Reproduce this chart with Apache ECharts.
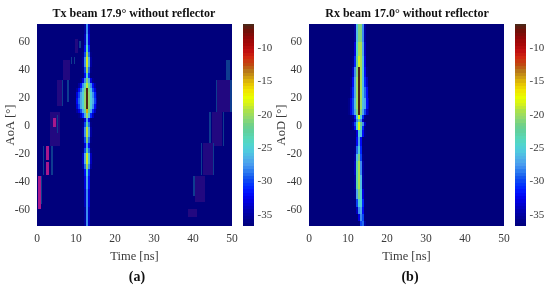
<!DOCTYPE html>
<html><head><meta charset="utf-8">
<style>html,body{margin:0;padding:0;background:#fff}#c{width:550px;height:289px;filter:blur(0.45px)}</style>
<script src="https://cdn.jsdelivr.net/npm/echarts@6/dist/echarts.min.js"></script>
</head><body><div id="c"></div>
<script>
const b = -36.6;
const xTicks = [0,10,20,30,40,50];
const yTicks = [-60,-40,-20,0,20,40,60];
const cbTicks = [-35,-30,-25,-20,-15,-10];
const leftTimes = [10,10.5,11,11.5,12,12.5,13,13.5,14,14.5,15,15.5];
const rightTimes = [10,10.5,11,11.5,12,12.5,13,13.5,14,14.5,15,15.5];
// [angle top, angle bottom, level per time cell]
const txRows = [
[73,66,[b,b,b,b,-35,-28,-34,b,b,b,b]],
[66,58,[b,b,b,b,-34,-27,-33,b,b,b,b]],
[58,53,[b,b,b,b,-32,-24,-31,b,b,b,b]],
[53,49,[b,b,b,-36,-30,-20,-29,-36,b,b,b]],
[49,42,[b,b,b,-35,-28,-18.5,-27,-35,b,b,b]],
[42,38,[b,b,b,-36,-30,-20,-29,-36,b,b,b]],
[38,34,[b,b,b,b,-32,-25,-31,b,b,b,b]],
[34,31,[b,b,-36,-33,-28,-21,-27,-33,-36,b,b]],
[31,27,[b,-35,-32,-28,-24,-19,-23,-28,-32,-35,b]],
[27,24,[-35,-32,-29,-26,-21,-6.6,-21,-26,-30,-33,-36]],
[24,20,[-33,-30,-27,-25,-20.5,-6.6,-20.5,-25,-28,-31,-35]],
[20,16,[-32,-29,-27,-25,-20.5,-6.6,-20.5,-25,-27,-30,-34]],
[16,12,[-33,-30,-27,-25,-20.5,-6.6,-20.5,-25,-28,-32,-35]],
[12,9,[-35,-33,-30,-27,-23,-15,-22,-27,-31,-34,b]],
[9,6,[b,-36,-34,-31,-27,-20,-26,-31,-34,b,b]],
[6,3,[b,b,b,b,-33,-27,-32,b,b,b,b]],
[3,-1,[b,b,b,-36,-30,-23,-29,-36,b,b,b]],
[-1,-8,[b,b,b,-35,-28,-19,-27,-35,b,b,b]],
[-8,-12,[b,b,b,-36,-30,-21,-29,-36,b,b,b]],
[-12,-16,[b,b,b,b,-33,-27,-32,b,b,b,b]],
[-16,-19,[b,b,b,-36,-30,-23,-29,-36,b,b,b]],
[-19,-27,[b,b,b,-34,-27,-18.5,-26,-34,b,b,b]],
[-27,-31,[b,b,b,-35,-29,-20,-28,-35,b,b,b]],
[-31,-36,[b,b,b,b,-32,-25,-31,b,b,b,b]],
[-36,-45,[b,b,b,b,-33,-27,-32,b,b,b,b]],
[-45,-58,[b,b,b,b,-34,-28,-33,b,b,b,b]],
[-58,-72,[b,b,b,b,-35,-28,-34,b,b,b,b]]
];
const rxRows = [
[73,60,[b,b,b,-35,-26,-21,-21,-28,-35,b,b]],
[60,50,[b,b,b,-33,-24,-19.5,-19.5,-27,-34,b,b]],
[50,42,[b,b,-36,-31,-22,-18.5,-19.5,-26,-33,b,b]],
[42,35,[b,b,-34,-28,-21,-6.6,-19.5,-26,-32,-36,b]],
[35,28,[b,-36,-32,-27,-20,-6.6,-19.5,-26,-31,-34,b]],
[28,20,[b,-35,-31,-27,-20,-6.6,-19.5,-26,-29,-32,-36]],
[20,12,[-36,-33,-30,-26,-20,-6.6,-20,-26,-27,-32,-34]],
[12,8,[-36,-33,-30,-27,-21,-6.6,-21,-27,-30,-34,-35]],
[8,5,[b,b,-36,-32,-25,-18,-25,-31,-36,b,b]],
[5,3,[b,b,b,-34,-28,-22,-28,-34,b,b,b]],
[3,0,[b,b,-35,-30,-24,-18,-22,-28,-34,b,b]],
[0,-3,[b,b,-36,-32,-24,-18,-23,-31,-36,b,b]],
[-3,-8,[b,b,b,b,-33,-25,-26,-32,-36,b,b]],
[-8,-14,[b,b,b,b,-32,-27,-32,b,b,b,b]],
[-14,-20,[b,b,b,-36,-29,-25,-31,b,b,b,b]],
[-20,-25,[b,b,b,-35,-26,-21,-30,-36,b,b,b]],
[-25,-35,[b,b,b,-34,-23,-19.5,-28,-35,b,b,b]],
[-35,-45,[b,b,b,-35,-23,-19.5,-26,-35,b,b,b]],
[-45,-52,[b,b,b,-36,-27,-21,-25,-33,b,b,b]],
[-52,-58,[b,b,b,b,-30,-25,-25,-31,b,b,b]],
[-58,-63,[b,b,b,b,-34,-28,-27,-32,b,b,b]],
[-63,-68,[b,b,b,b,b,-33,-28,-30,b,b,b]],
[-68,-73,[b,b,b,b,b,b,-30,-29,-35,b,b]]
];
// faint stripes: [t0,t1,angle top,angle bottom,kind]
const txStripes = [
[9.7,10.5,62,52,0],[10.8,11.2,61,56,2],[9.5,9.75,49,44,2],[8.6,8.85,49,44,2],
[6.7,8.5,47,33,0],[7.8,8.1,33,17,2],[5.1,6.3,33,14,0],[6.3,6.5,33,14,2],
[3.3,5.9,10,-14,0],[4.2,4.75,6,-1,1],[5,5.2,8,-5,2],
[2.2,3.1,-14,-24,1],[2.2,3.1,-26,-35,1],[1.5,1.8,-14,-35,2],[3.7,4,-14,-35,2],
[0.25,1,-36,-59,1],[1.15,1.4,-36,-56,2],
[46.2,49.5,33,10,0],[45.8,46.2,33,10,2],[49.5,49.9,33,10,2],
[48.5,49.5,47,33,2],[44.9,47.4,10,-14,0],[44.1,44.7,10,-14,2],[47.6,48,10,-14,2],
[42.5,45,-12,-35,0],[42,42.4,-12,-35,2],[45.2,45.5,-12,-35,2],
[40.5,43,-36,-54,0],[40,40.4,-36,-50,2],[38.7,41,-59,-65,0]
];
const stripeColors = ['#220880','#a8188c','#0e3c90'];
const colormap = ['#00007a','#000090','#0000a8','#0000c8','#0000e8','#0010ff','#0030ff','#1050f0','#2878f0','#4898f0','#50b0e8','#50c8e0','#50d4d0','#58d8b8','#60d0a0','#70d088','#90d870','#a8e050','#d0f020','#e8ff00','#f0e800','#e8c800','#d0a010','#b87818','#c04810','#d02810','#c01010','#a80808','#900808','#701008','#4a2818'];

const cmin=-36.7, cmax=-6.4, font='"Liberation Serif"', grey='#3a3a3a';
function cells(rows,times){
  const out=[[0,50,80,-80,b]];
  rows.forEach(r=>r[2].forEach((v,i)=>{ if(v!==b) out.push([times[i],times[i+1],r[0],r[1],v]); }));
  return out;
}
function rect(params,api,fill){
  const p=api.coord([api.value(0),api.value(2)]), q=api.coord([api.value(1),api.value(3)]);
  const x=Math.round(p[0]),y=Math.round(p[1]);
  const w=Math.max(1,Math.round(q[0])-x),h=Math.max(1,Math.round(q[1])-y);
  return {type:'rect',shape:{x,y,width:w,height:h},style:{fill}};
}
const jet=(p,a)=>rect(p,a,a.visual('color'));
function series(i,data,fn){
  return {type:'custom',xAxisIndex:i,yAxisIndex:i,data,renderItem:fn,clip:true,silent:true,animation:false,encode:{x:[0,1],y:[2,3]}};
}
const cb=[]; for(let v=cmin;v<cmax;v+=0.5) cb.push([0,1,Math.min(v+0.5,cmax),v,v+0.25]);
const S=[
  series(0,cells(txRows,leftTimes).slice(0,1),jet),
  series(0,txStripes,(p,a)=>rect(p,a,stripeColors[a.value(4)])),
  series(0,cells(txRows,leftTimes).slice(1),jet),
  series(1,cells(rxRows,rightTimes),jet),
  series(2,cb,jet),
  series(3,cb,jet)
];
const gridBox=(l,w)=>({left:l,top:24,width:w,height:202,containLabel:false});
const xa=(g)=>({gridIndex:g,type:'value',min:0,max:50,
  axisLine:{show:false},axisTick:{show:false},splitLine:{show:false},
  axisLabel:{customValues:xTicks,color:grey,fontFamily:font,fontSize:11.5,margin:7},
  name:'Time [ns]',nameLocation:'middle',nameGap:23,nameTextStyle:{color:grey,fontFamily:font,fontSize:12.5}});
const ya=(g)=>({gridIndex:g,type:'value',min:-71.4,max:72.9,
  axisLine:{show:false},axisTick:{show:false},splitLine:{show:false},
  axisLabel:{customValues:yTicks,color:grey,fontFamily:font,fontSize:11.5,margin:7}});
const cx=(g)=>({gridIndex:g,type:'value',min:0,max:1,show:false});
const cy=(g)=>({gridIndex:g,type:'value',min:cmin,max:cmax,position:'right',
  axisLine:{show:false},axisTick:{show:false},splitLine:{show:false},
  axisLabel:{customValues:cbTicks,color:grey,fontFamily:font,fontSize:11,margin:4}});
const T=(text,x,y,bold,size)=>({text,left:x,top:y,textAlign:'center',textStyle:{fontFamily:font,fontWeight:bold?'bold':'normal',fontSize:size,color:'#111'},padding:0});
const Y=(text,x)=>({type:'text',x,y:125,rotation:Math.PI/2,style:{text,fill:grey,font:'12.5px '+font,textAlign:'center',textVerticalAlign:'middle'}});
const chart=echarts.init(document.getElementById('c'),null,{renderer:'canvas'});
chart.setOption({
  animation:false,backgroundColor:'#fff',
  title:[
    T('Tx beam 17.9° without reflector',134,8,true,12),
    T('Rx beam 17.0° without reflector',407,8,true,12),
    {text:'({a|a})',left:137,top:270,textAlign:'center',padding:0,textStyle:{fontFamily:font,fontSize:14,color:'#111',rich:{a:{fontFamily:font,fontSize:14,fontWeight:'bold',color:'#111'}}}},
    {text:'({a|b})',left:410,top:270,textAlign:'center',padding:0,textStyle:{fontFamily:font,fontSize:14,color:'#111',rich:{a:{fontFamily:font,fontSize:14,fontWeight:'bold',color:'#111'}}}}
  ],
  grid:[gridBox(37,195),gridBox(309,195),gridBox(243,10.5),gridBox(515,10.5)],
  xAxis:[xa(0),xa(1),cx(2),cx(3)],
  yAxis:[ya(0),ya(1),cy(2),cy(3)],
  graphic:[Y('AoA [°]',11),Y('AoD [°]',282)],
  visualMap:{show:false,type:'continuous',seriesIndex:[0,2,3,4,5],dimension:4,min:cmin,max:cmax,inRange:{color:colormap}},
  series:S
});
</script></body></html>
